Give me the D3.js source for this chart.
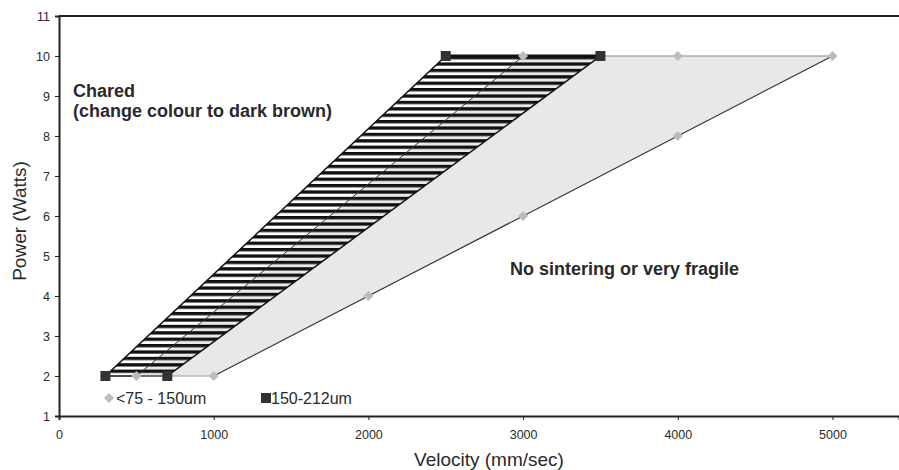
<!DOCTYPE html>
<html lang="en">
  <head>
    <meta charset="UTF-8" />
    <title>Power vs Velocity</title>
    <script src="https://d3js.org/d3.v7.min.js"></script>
    <style>
      body { margin: 0; background: #fff; }
      svg text { font-family: "Liberation Sans", Arial, sans-serif; fill: #2a2a2a; }
    </style>
  </head>
  <body>
    <svg width="899" height="470"></svg>

    <script>
      // data
      const fineVelocity = [500, 1000, 2000, 3000, 4000, 5000, 3000, 4000];
      const finePower = [2, 2, 4, 6, 8, 10, 10, 10];
      // outline of the fine powder window (velocity, power)
      const fineWindow = [[500, 2], [1000, 2], [5000, 10], [3000, 10]];

      const coarseVelocity = [300, 700, 2500, 3500];
      const coarsePower = [2, 2, 10, 10];
      const coarseWindow = [[300, 2], [700, 2], [3500, 10], [2500, 10]];

      const xTicks = [0, 1000, 2000, 3000, 4000, 5000];
      const yTicks = [1, 2, 3, 4, 5, 6, 7, 8, 9, 10, 11];
      const legendLabels = ["<75 - 150um", "150-212um"];

      const svg = d3.select("svg");
      const margin = { left: 59, top: 16, right: 0, bottom: 54 };
      const width = +svg.attr("width");
      const height = +svg.attr("height");

      const x = d3.scaleLinear().domain([0, 5430]).range([margin.left, width - margin.right]);
      const y = d3.scaleLinear().domain([1, 11]).range([height - margin.bottom, margin.top]);

      // horizontal stripes pattern
      const defs = svg.append("defs");
      const pat = defs.append("pattern")
        .attr("id", "stripes")
        .attr("patternUnits", "userSpaceOnUse")
        .attr("width", 10)
        .attr("height", 6.4)
        .attr("y", y(10));
      pat.append("rect").attr("width", 10).attr("height", 3.3).attr("fill", "#111");

      const line = d3.line().x(d => x(d[0])).y(d => y(d[1]));

      // fine window (light grey)
      svg.append("path")
        .attr("d", line(fineWindow) + "Z")
        .attr("fill", "#e8e8e8")
        .attr("stroke", "none");

      // coarse window (striped)
      svg.append("path")
        .attr("d", line(coarseWindow) + "Z")
        .attr("fill", "url(#stripes)")
        .attr("stroke", "#111")
        .attr("stroke-width", 1.5);

      // fine window edges
      const fe = fineWindow;
      svg.append("path")
        .attr("d", line([fe[3], fe[0]]))
        .attr("stroke", "#333").attr("stroke-width", 1).attr("fill", "none");
      svg.append("path")
        .attr("d", line([fe[1], fe[2]]))
        .attr("stroke", "#333").attr("stroke-width", 1.2).attr("fill", "none");
      svg.append("path")
        .attr("d", line([fe[0], fe[1]]))
        .attr("stroke", "#999").attr("stroke-width", 1).attr("fill", "none");
      svg.append("path")
        .attr("d", line([[3500, 10], fe[2]]))
        .attr("stroke", "#888").attr("stroke-width", 1.2).attr("fill", "none");
      // coarse top edge, thick
      svg.append("path")
        .attr("d", line([coarseWindow[3], coarseWindow[2]]))
        .attr("stroke", "#111").attr("stroke-width", 3).attr("fill", "none");

      // markers
      const diamond = d3.symbol().type(d3.symbolSquare).size(50);
      svg.selectAll(".fine")
        .data(fineVelocity.map((v, i) => [v, finePower[i]]))
        .join("path")
        .attr("class", "fine")
        .attr("d", diamond)
        .attr("transform", d => `translate(${x(d[0])},${y(d[1])}) rotate(45)`)
        .attr("fill", "#bcbcbc");

      svg.selectAll(".coarse")
        .data(coarseVelocity.map((v, i) => [v, coarsePower[i]]))
        .join("rect")
        .attr("class", "coarse")
        .attr("x", d => x(d[0]) - 5)
        .attr("y", d => y(d[1]) - 5)
        .attr("width", 10)
        .attr("height", 10)
        .attr("fill", "#333");

      // axes
      const xAxis = svg.append("g")
        .attr("transform", `translate(0,${y(1)})`)
        .call(d3.axisBottom(x).tickValues(xTicks).tickFormat(d3.format("d")).tickSize(4).tickPadding(10));
      const yAxis = svg.append("g")
        .attr("transform", `translate(${x(0)},0)`)
        .call(d3.axisLeft(y).tickValues(yTicks).tickFormat(d3.format("d")).tickSize(4).tickPadding(5));
      [xAxis, yAxis].forEach(g => {
        g.select(".domain").attr("stroke", "#222").attr("stroke-width", 2);
        g.selectAll(".tick line").attr("stroke", "#222");
        g.selectAll(".tick text").style("font-size", "12.5px").attr("fill", "#2a2a2a")
          .style("font-family", "'Liberation Sans', Arial, sans-serif");
      });
      // top border
      svg.append("line")
        .attr("x1", x(0)).attr("x2", width)
        .attr("y1", y(11)).attr("y2", y(11))
        .attr("stroke", "#222").attr("stroke-width", 2);

      // axis titles
      svg.append("text")
        .attr("x", 489).attr("y", 466)
        .attr("text-anchor", "middle")
        .style("font-size", "19px")
        .text("Velocity (mm/sec)");
      svg.append("text")
        .attr("transform", `translate(26,221) rotate(-90)`)
        .attr("text-anchor", "middle")
        .style("font-size", "19px")
        .text("Power (Watts)");

      // region labels
      svg.append("text")
        .attr("x", 73).attr("y", 97)
        .style("font-size", "18px").style("font-weight", "bold")
        .text("Chared");
      svg.append("text")
        .attr("x", 73).attr("y", 117)
        .style("font-size", "18px").style("font-weight", "bold")
        .text("(change colour to dark brown)");
      svg.append("text")
        .attr("x", 510).attr("y", 275)
        .style("font-size", "18px").style("font-weight", "bold")
        .text("No sintering or very fragile");

      // legend
      const leg = svg.append("g").attr("transform", `translate(0,${y(1.45)})`);
      leg.append("path").attr("d", diamond).attr("transform", "translate(109,0) rotate(45)").attr("fill", "#bcbcbc");
      leg.append("text").attr("x", 116).attr("y", 6).style("font-size", "16px").text(legendLabels[0]);
      leg.append("rect").attr("x", 261).attr("y", -5).attr("width", 10).attr("height", 10).attr("fill", "#333");
      leg.append("text").attr("x", 271).attr("y", 6).style("font-size", "16px").text(legendLabels[1]);
    </script>
  </body>
</html>
